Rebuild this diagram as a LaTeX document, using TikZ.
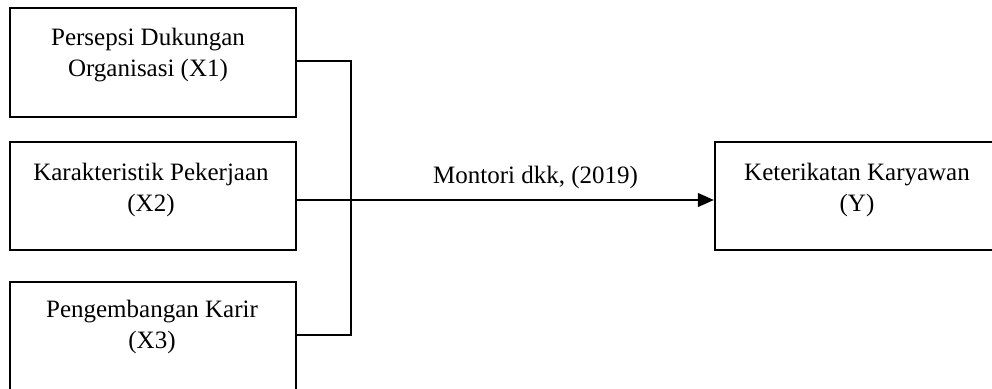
\documentclass[tikz,border=0pt]{standalone}
\usepackage{fontspec}
\setmainfont{Liberation Serif}
\usetikzlibrary{arrows.meta}
\begin{document}
\begin{tikzpicture}[x=1pt,y=-1pt,
  box/.style={draw=black, line width=2.4pt, rectangle, inner sep=0pt},
  label/.style={inner sep=0pt, align=center, anchor=base,
    font=\fontsize{25}{31}\selectfont},
  link/.style={draw=black, line width=1.6pt},
  thinlink/.style={draw=black, line width=1.1pt}]
\useasboundingbox (0,0) rectangle (992,388);
\clip (0,0) rectangle (992,388);
% variable boxes
\node[box, minimum width=286pt, minimum height=109pt] (b1) at (153,62.5) {};
\node[box, minimum width=286pt, minimum height=108pt] (b2) at (153,196) {};
\node[box, minimum width=286pt, minimum height=110pt] (b3) at (153,337) {};
\node[box, minimum width=280pt, minimum height=108pt] (by) at (855,196) {};
% box texts (anchored on the baseline of their last line)
\node[label] (t1) at (148,76) {Persepsi Dukungan\\Organisasi (X1)};
\node[label] (t2) at (151,211) {Karakteristik Pekerjaan\\(X2)};
\node[label] (t3) at (152,348) {Pengembangan Karir\\(X3)};
\node[label] (ty) at (857,211) {Keterikatan Karyawan\\(Y)};
\node[label] (src) at (535.5,183) {Montori dkk, (2019)};
% connectors
\coordinate (jt) at (351,61);
\coordinate (jb) at (351,335);
\draw[link] ([yshift=1.5pt]b1.east) -- (jt) -- (jb) -- ([yshift=2pt]b3.east);
\draw[thinlink, -{Triangle[length=16pt,width=14pt]}] ([yshift=-4pt]b2.east) -- ([yshift=-4pt]by.west);
\end{tikzpicture}
\end{document}
